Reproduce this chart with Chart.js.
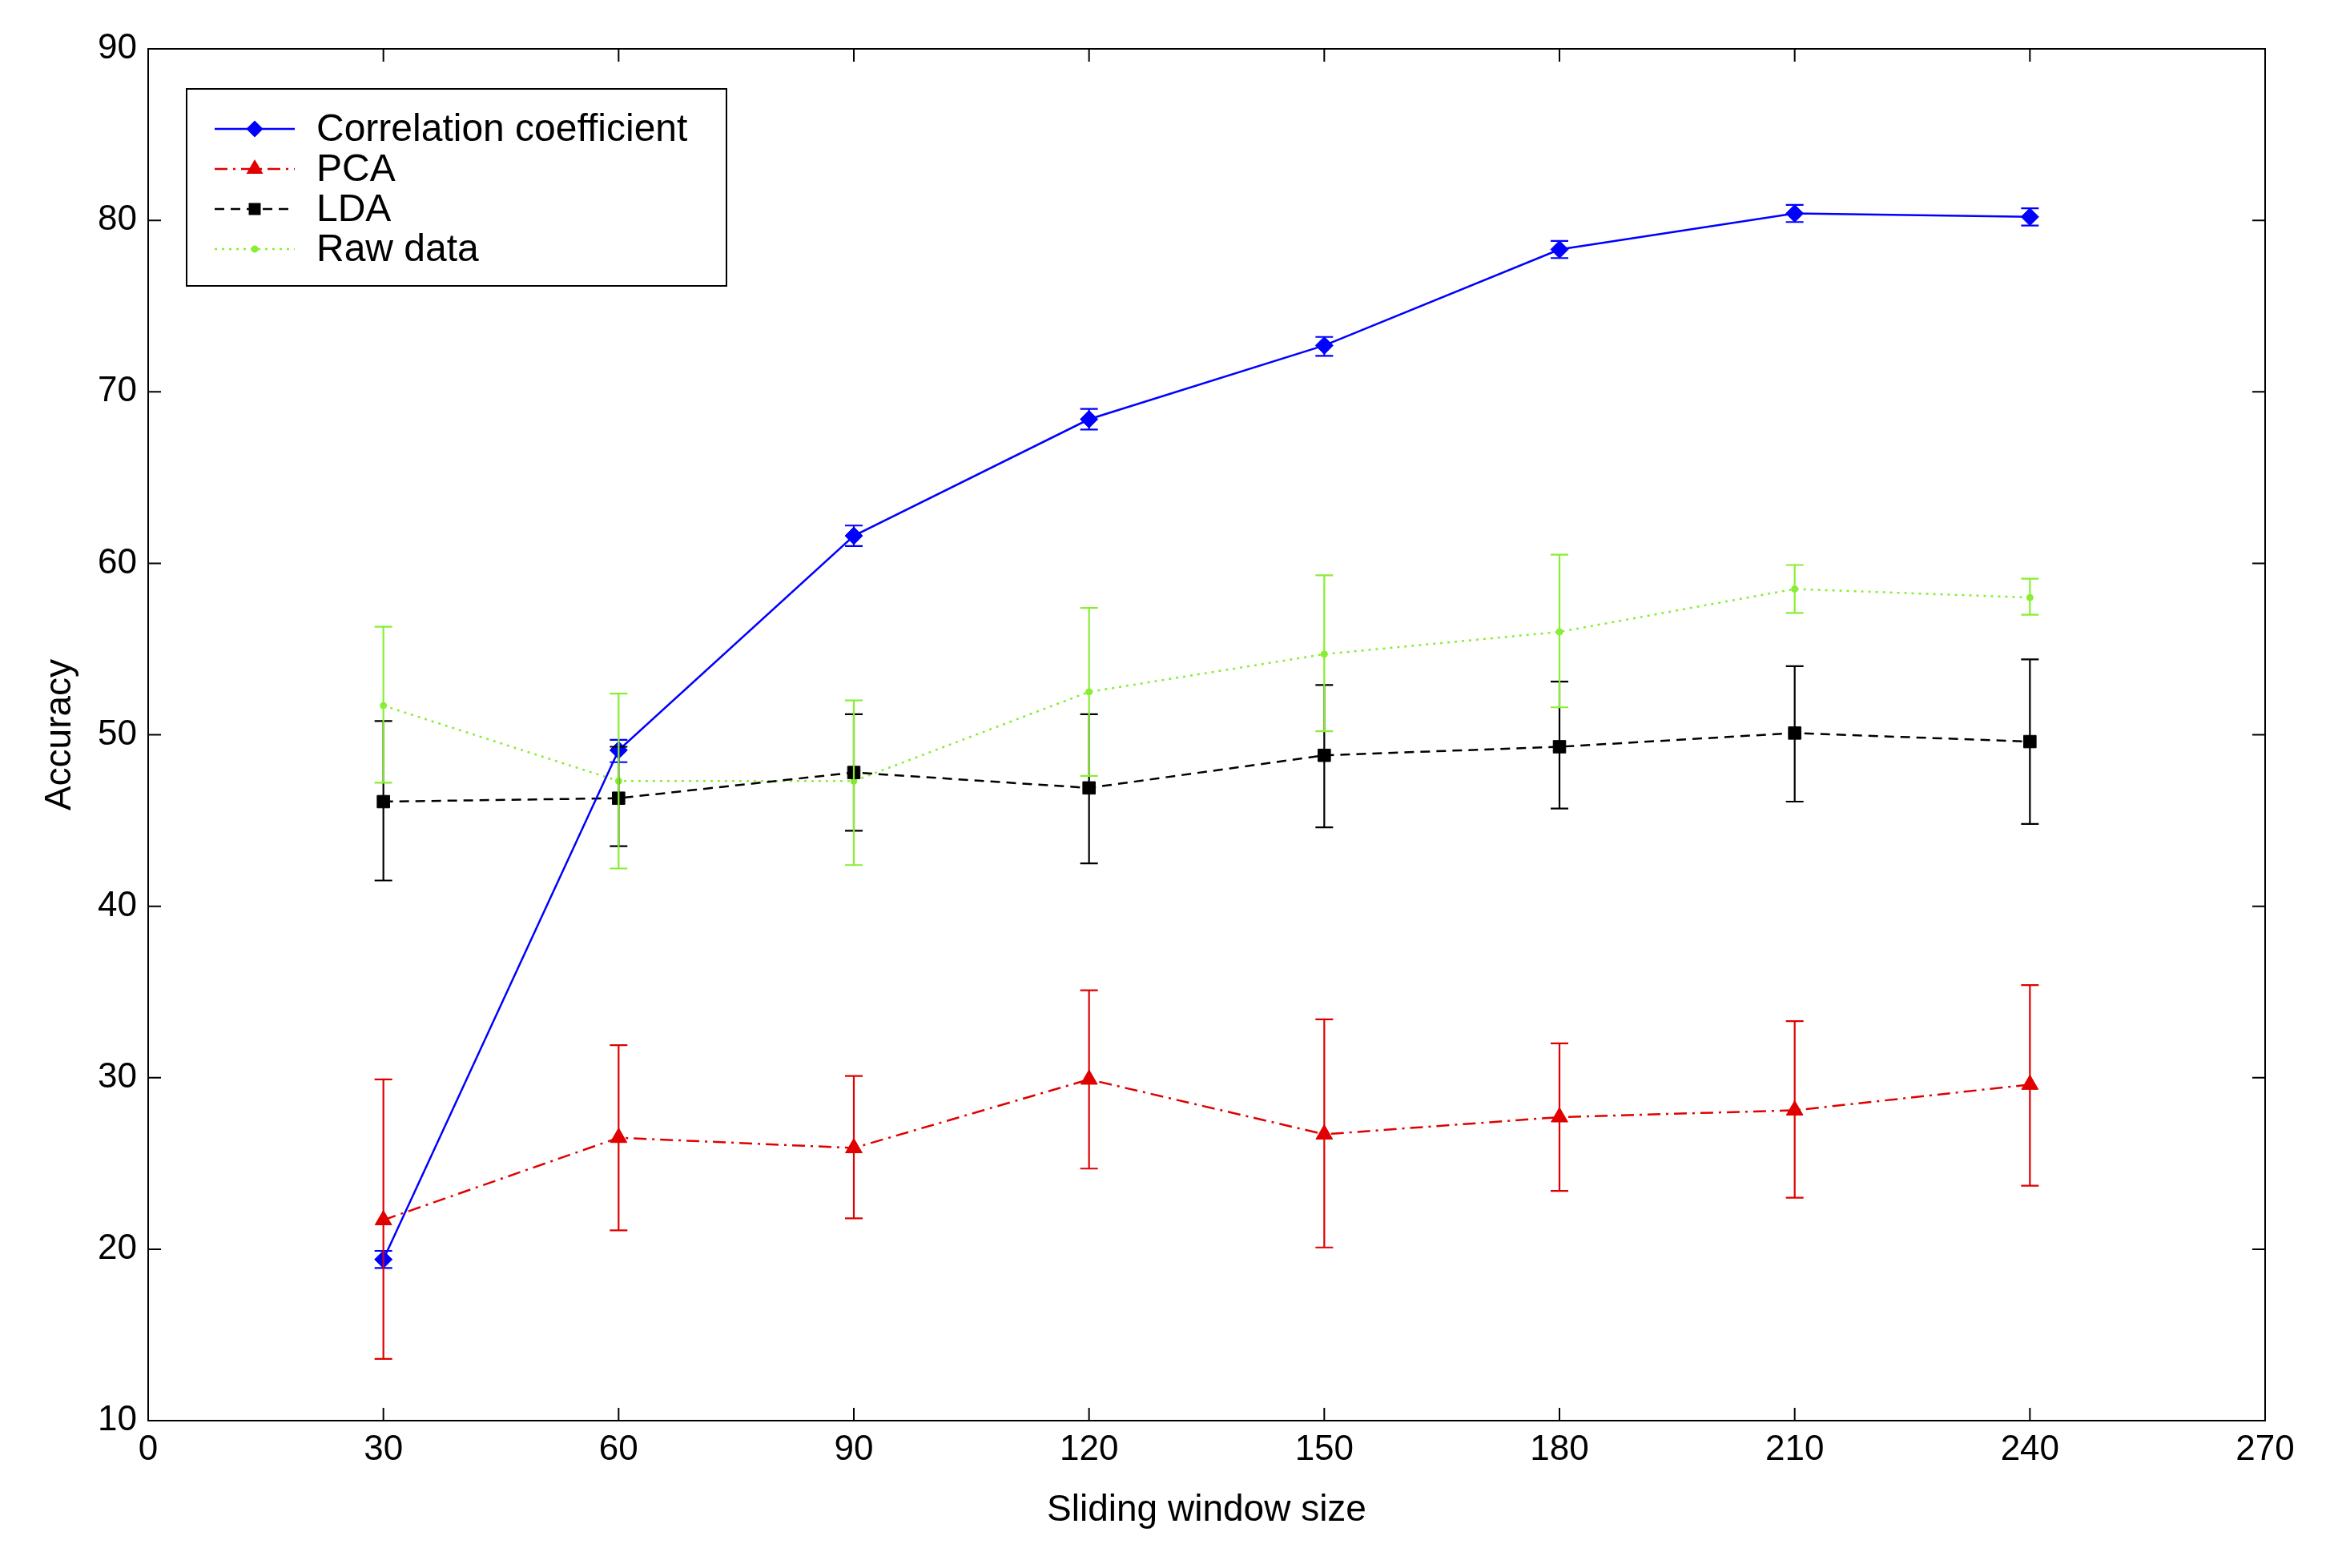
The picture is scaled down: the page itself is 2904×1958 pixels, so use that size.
<!DOCTYPE html>
<html><head><meta charset="utf-8">
<script src="https://cdn.jsdelivr.net/npm/chart.js@4/dist/chart.umd.min.js"></script>
<style>html,body{margin:0;padding:0;background:#fff}#w{width:2904px;height:1958px}</style>
</head><body><div id="w"><canvas id="c"></canvas></div>
<script>
const windowSizes=[30,60,90,120,150,180,210,240];
const corr=[19.4,49.1,61.6,68.4,72.7,78.3,80.4,80.2];
const corrLo=[18.9,48.4,61.0,67.8,72.1,77.8,79.9,79.7];
const corrHi=[19.9,49.7,62.2,69.0,73.2,78.8,80.9,80.7];
const pca=[21.7,26.5,25.9,29.9,26.7,27.7,28.1,29.6];
const pcaLo=[13.6,21.1,21.8,24.7,20.1,23.4,23.0,23.7];
const pcaHi=[29.9,31.9,30.1,35.1,33.4,32.0,33.3,35.4];
const lda=[46.1,46.3,47.8,46.9,48.8,49.3,50.1,49.6];
const ldaLo=[41.5,43.5,44.4,42.5,44.6,45.7,46.1,44.8];
const ldaHi=[50.8,49.3,51.2,51.2,52.9,53.1,54.0,54.4];
const raw=[51.7,47.3,47.3,52.5,54.7,56.0,58.5,58.0];
const rawLo=[47.2,42.2,42.4,47.6,50.2,51.6,57.1,57.0];
const rawHi=[56.3,52.4,52.0,57.4,59.3,60.5,59.9,59.1];
const xTicks=[0,30,60,90,120,150,180,210,240,270];
const yTicks=[10,20,30,40,50,60,70,80,90];
const FONT='"Liberation Sans Narrow","Liberation Sans",Arial,sans-serif';
const pts=a=>a.map((v,i)=>({x:windowSizes[i],y:v}));
const series=[
 {label:'Correlation coefficient',d:corr,lo:corrLo,hi:corrHi,c:'#0000ff',dash:[],ps:'rectRot',r:11},
 {label:'PCA',d:pca,lo:pcaLo,hi:pcaHi,c:'#e00000',dash:[16,7,3,7],ps:'triangle',r:12},
 {label:'LDA',d:lda,lo:ldaLo,hi:ldaHi,c:'#000000',dash:[12,8],ps:'rect',r:11},
 {label:'Raw data',d:raw,lo:rawLo,hi:rawHi,c:'#88ee33',dash:[3,6],ps:'circle',r:4}
];
const errPlugin={id:'err',afterDatasetsDraw(ch){
 const ctx=ch.ctx,xs=ch.scales.x,ys=ch.scales.y;ctx.save();ctx.lineWidth=2.2;
 series.forEach(s=>{ctx.strokeStyle=s.c;s.d.forEach((v,i)=>{
  const x=xs.getPixelForValue(windowSizes[i]),y1=ys.getPixelForValue(s.lo[i]),y2=ys.getPixelForValue(s.hi[i]);
  ctx.beginPath();ctx.moveTo(x,y1);ctx.lineTo(x,y2);
  ctx.moveTo(x-11,y1);ctx.lineTo(x+11,y1);ctx.moveTo(x-11,y2);ctx.lineTo(x+11,y2);ctx.stroke();});});
 const a=ch.chartArea;ctx.strokeStyle='#000';ctx.lineWidth=2;ctx.strokeRect(a.left,a.top,a.right-a.left,a.bottom-a.top);
 ctx.beginPath();
 xTicks.forEach(t=>{const x=xs.getPixelForValue(t);ctx.moveTo(x,a.bottom);ctx.lineTo(x,a.bottom-16);ctx.moveTo(x,a.top);ctx.lineTo(x,a.top+16);});
 yTicks.forEach(t=>{const y=ys.getPixelForValue(t);ctx.moveTo(a.left,y);ctx.lineTo(a.left+16,y);ctx.moveTo(a.right,y);ctx.lineTo(a.right-16,y);});
 ctx.stroke();
 const L=233,T=111,W=674,H=246;ctx.fillStyle='#fff';ctx.fillRect(L,T,W,H);ctx.strokeRect(L,T,W,H);
 ctx.font='48px '+FONT;ctx.textBaseline='middle';
 series.forEach((s,i)=>{const y=T+50+i*50;ctx.strokeStyle=s.c;ctx.lineWidth=2.5;ctx.setLineDash(s.dash);
  ctx.beginPath();ctx.moveTo(L+35,y);ctx.lineTo(L+135,y);ctx.stroke();ctx.setLineDash([]);
  ctx.fillStyle=s.c;Chart.helpers.drawPoint(ctx,{pointStyle:s.ps,radius:s.r*0.8,borderWidth:1},L+85,y);
  ctx.fillStyle='#000';ctx.fillText(s.label,L+162,y+2);});
 ctx.restore();}};
new Chart(document.getElementById('c'),{type:'line',
 data:{datasets:series.map(s=>({label:s.label,data:pts(s.d),borderColor:s.c,backgroundColor:s.c,borderDash:s.dash,borderWidth:2.5,pointStyle:s.ps,pointRadius:s.r,pointBorderWidth:1,tension:0}))},
 options:{responsive:true,maintainAspectRatio:false,animation:false,devicePixelRatio:1,
  layout:{padding:{top:61,right:76,left:44,bottom:40}},
  plugins:{legend:{display:false},tooltip:{enabled:false}},
  scales:{
   x:{type:'linear',min:0,max:270,afterFit:s=>{s.height=144;},afterBuildTicks:s=>{s.ticks=xTicks.map(v=>({value:v}));},
    grid:{display:false},border:{display:false},ticks:{color:'#000',font:{size:44,family:FONT},padding:2,maxRotation:0},
    title:{display:true,text:'Sliding window size',color:'#000',font:{size:46,family:FONT},padding:{top:0}}},
   y:{min:10,max:90,afterFit:s=>{s.width=141;},afterBuildTicks:s=>{s.ticks=yTicks.map(v=>({value:v}));},
    grid:{display:false},border:{display:false},ticks:{color:'#000',font:{size:44,family:FONT},padding:6},
    title:{display:true,text:'Accuracy',color:'#000',font:{size:46,family:FONT},padding:{bottom:0}}}}},
 plugins:[errPlugin]});
</script></body></html>
